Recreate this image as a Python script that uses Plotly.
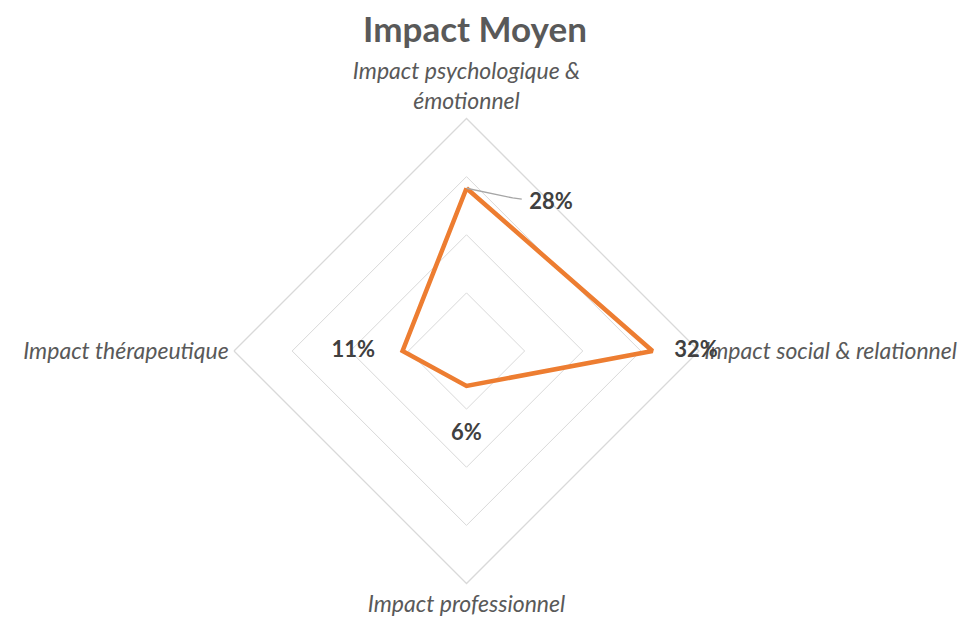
import plotly.graph_objects as go

categories = ["Impact psychologique &<br>émotionnel", "Impact social & relationnel",
              "Impact professionnel", "Impact thérapeutique"]
values = [28, 32, 6, 11]
value_labels = ["28%", "32%", "6%", "11%"]

ORANGE = "#ED7D31"
GRID = "#D9D9D9"
FONT = "Lato"

fig = go.Figure()

# main series
fig.add_trace(go.Scatterpolar(
    r=values + values[:1], theta=categories + categories[:1],
    mode="lines", line=dict(color=ORANGE, width=4.5), hoverinfo="skip",
    showlegend=False,
))

# data label placement (offsets from the points, in polar terms)
label_r = [values[0] + 1.3, values[1] + 7.5, values[2] + 8.3, values[3] + 8.5]
angles = [0, 90, 180, 270]
label_angle_off = [29.8, 0, 0, 0]
lab_theta = [a + o for a, o in zip(angles, label_angle_off)]

# leader line for the first label
fig.add_trace(go.Scatterpolar(
    r=[values[0], values[0] - 0.5, values[0] - 0.2],
    theta=[0, 16.8, 20.0],
    mode="lines", line=dict(color="#A6A6A6", width=1.3),
    hoverinfo="skip", showlegend=False, subplot="polar2",
))

fig.add_trace(go.Scatterpolar(
    r=label_r, theta=lab_theta, mode="text", text=value_labels,
    textfont=dict(family=FONT, size=22, color="#404040", weight="bold"),
    hoverinfo="skip", showlegend=False, subplot="polar2",
))

W, H = 973, 623
x0, x1, yt, yb = 226, 691, 110, 576
dom = dict(x=[x0 / W, x1 / W], y=[(H - yb) / H, (H - yt) / H])
fig.update_layout(
    width=W, height=H,
    margin=dict(t=0, b=0, l=0, r=0, autoexpand=False),
    paper_bgcolor="white", plot_bgcolor="white",
    title=dict(text="<b>Impact Moyen</b>", x=467 / W, xref="paper", xanchor="center",
               y=1 - 22 / H, yref="paper", yanchor="middle",
               font=dict(family=FONT, size=35, color="#595959")),
    polar=dict(
        domain=dom, gridshape="linear", bgcolor="rgba(0,0,0,0)",
        angularaxis=dict(direction="clockwise", rotation=90, showgrid=False,
                         showline=True, linecolor=GRID, linewidth=1.3, ticks="",
                         tickfont=dict(family=FONT, size=23, color="#595959", style="italic")),
        radialaxis=dict(range=[0, 40], dtick=10, showticklabels=False, showline=False,
                        ticks="", gridcolor=GRID, gridwidth=1.3),
    ),
    polar2=dict(
        domain=dom, bgcolor="rgba(0,0,0,0)",
        angularaxis=dict(direction="clockwise", rotation=90, visible=False, thetaunit="degrees"),
        radialaxis=dict(range=[0, 40], visible=False),
    ),
)

fig.write_html("out.html")
